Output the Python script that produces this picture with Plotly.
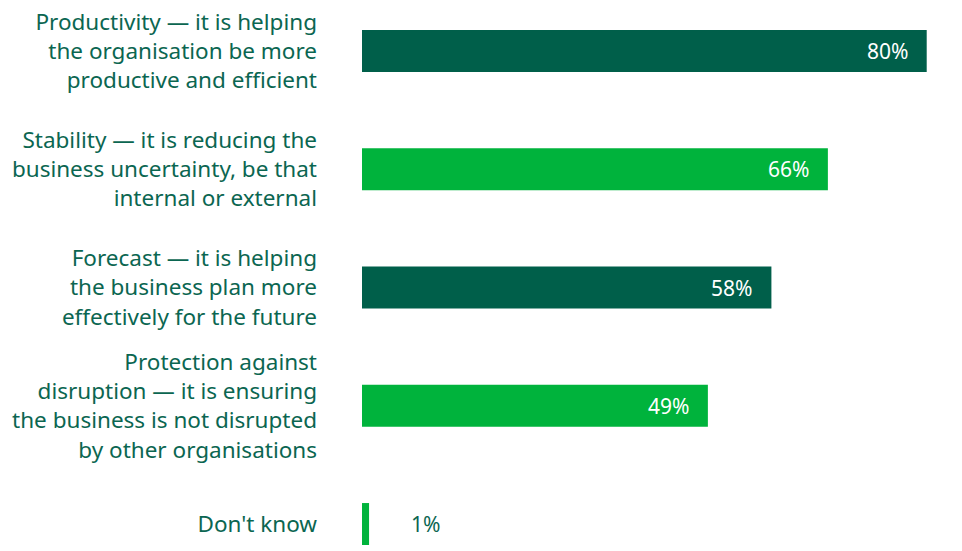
import plotly.graph_objects as go

# Survey answers, top to bottom
categories = [
    "Productivity — it is helping<br>the organisation be more<br>productive and efficient",
    "Stability — it is reducing the<br>business uncertainty, be that<br>internal or external",
    "Forecast — it is helping<br>the business plan more<br>effectively for the future",
    "Protection against<br>disruption — it is ensuring<br>the business is not disrupted<br>by other organisations",
    "Don't know",
]
values = [80, 66, 58, 49, 1]
value_labels = ["80%", "66%", "58%", "49%", "1%"]

DARK = "#005f4a"
BRIGHT = "#00b33c"
TEXT = "#0b6651"
bar_colors = [DARK, BRIGHT, DARK, BRIGHT, BRIGHT]

fig = go.Figure(
    go.Bar(
        x=values,
        y=categories,
        orientation="h",
        marker=dict(color=bar_colors, line=dict(width=0)),
        width=0.355,
        hoverinfo="skip",
    )
)

# Value labels: inside the bar end for large values, outside for small ones
for cat, v, lab in zip(categories, values, value_labels):
    inside = v > 10
    fig.add_annotation(
        x=v,
        y=cat,
        text=lab,
        showarrow=False,
        xanchor="right" if inside else "left",
        xshift=-17 if inside else 40,
        font=dict(family="Noto Sans", size=21, color="white" if inside else TEXT),
    )

fig.update_layout(
    width=962,
    height=551,
    margin=dict(l=362, r=0, t=0, b=0),
    paper_bgcolor="white",
    plot_bgcolor="white",
    showlegend=False,
    font=dict(family="Noto Sans", size=22.5, color=TEXT),
    xaxis=dict(
        range=[0, 85],
        visible=False,
        fixedrange=True,
    ),
    yaxis=dict(
        type="category",
        range=[4.228, -0.431],
        showgrid=False,
        zeroline=False,
        showline=False,
        ticks="",
        ticklabelstandoff=44,
        tickfont=dict(family="Noto Sans", size=22.5, color=TEXT),
    ),
)

fig.write_html("out.html")
